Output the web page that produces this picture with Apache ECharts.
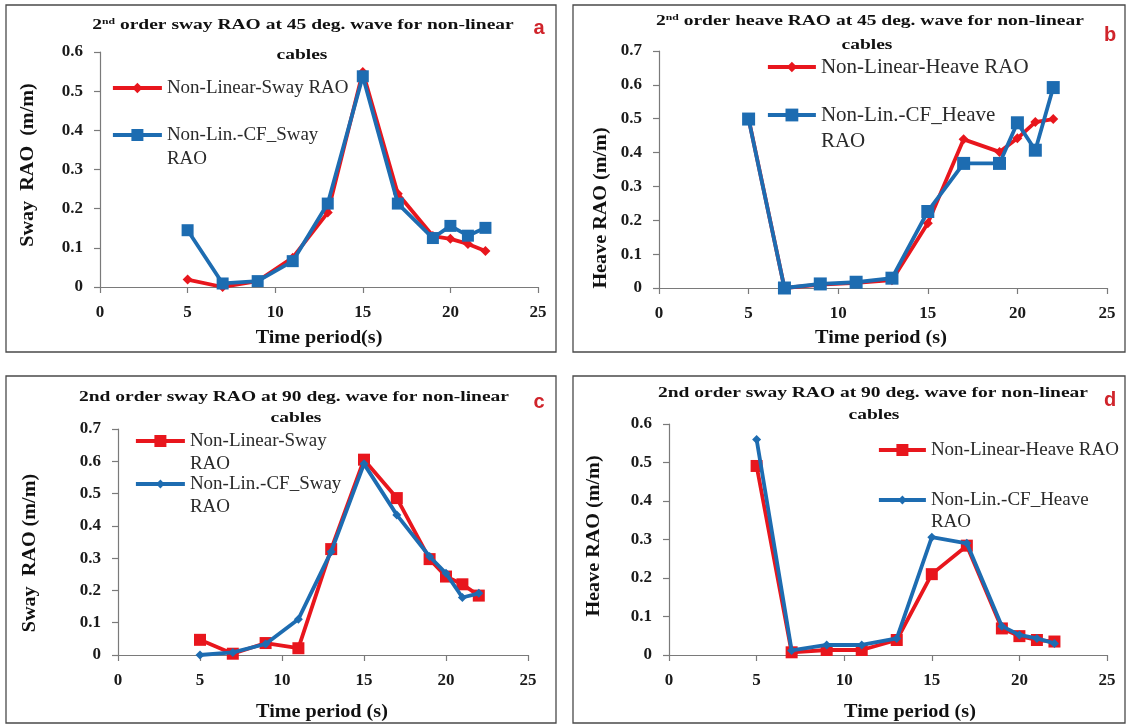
<!DOCTYPE html>
<html><head><meta charset="utf-8">
<script src="https://cdn.jsdelivr.net/npm/echarts@6/dist/echarts.min.js"></script>
<style>html,body{margin:0;padding:0;background:#fff}#c{width:1129px;height:725px}</style>
</head><body><div id="c"></div><script>
// ---- data ----
const periods = [5, 7, 9, 11, 13, 15, 17, 19, 20, 21, 22];
const swayRao45NonLinear = [0.019, 0.0, 0.015, 0.075, 0.19, 0.549, 0.238, 0.13, 0.123, 0.11, 0.092];
const swayRao45CF        = [0.145, 0.009, 0.015, 0.066, 0.213, 0.538, 0.213, 0.125, 0.156, 0.131, 0.151];
const heaveRao45NonLinear = [0.5, 0.0, 0.01, 0.015, 0.023, 0.191, 0.439, 0.402, 0.442, 0.49, 0.499];
const heaveRao45CF        = [0.499, 0.0, 0.012, 0.017, 0.029, 0.226, 0.368, 0.368, 0.488, 0.407, 0.592];
const swayRao90NonLinear = [0.047, 0.004, 0.037, 0.021, 0.328, 0.605, 0.486, 0.297, 0.243, 0.219, 0.184];
const swayRao90CF        = [0.0, 0.008, 0.034, 0.111, 0.32, 0.592, 0.434, 0.305, 0.253, 0.178, 0.191];
const heaveRao90NonLinear = [0.491, 0.007, 0.013, 0.013, 0.039, 0.21, 0.284, 0.069, 0.049, 0.039, 0.035];
const heaveRao90CF        = [0.56, 0.012, 0.026, 0.026, 0.043, 0.306, 0.29, 0.075, 0.052, 0.043, 0.03];
const xTicks = [0, 5, 10, 15, 20, 25];
const yMaxA = 0.6, yMaxB = 0.7, yMaxC = 0.7, yMaxD = 0.6, yStep = 0.1;

const titlesLine1 = [
  '2{sup|nd} order sway RAO at 45 deg. wave for non-linear',
  '2{sup|nd} order heave RAO at 45 deg. wave for non-linear',
  '2nd order sway RAO at 90 deg. wave for non-linear',
  '2nd order sway RAO at 90 deg. wave for non-linear'
];
const titleLine2 = 'cables';
const xTitles = ['Time period(s)', 'Time period (s)', 'Time period (s)', 'Time period (s)'];
const yTitles = ['Sway  RAO  (m/m)', 'Heave RAO (m/m)', 'Sway  RAO (m/m)', 'Heave RAO (m/m)'];
const panelLetters = ['a', 'b', 'c', 'd'];
const legendRed = ['Non-Linear-Sway RAO', 'Non-Linear-Heave RAO', 'Non-Linear-Sway\nRAO', 'Non-Linear-Heave RAO'];
const legendBlue = ['Non-Lin.-CF_Sway\nRAO', 'Non-Lin.-CF_Heave\nRAO', 'Non-Lin.-CF_Sway\nRAO', 'Non-Lin.-CF_Heave\nRAO'];

// ---- layout / style ----
const RED = '#e8161d', BLUE = '#1d6cb1';
const SERIF = '"Liberation Serif","Times New Roman",serif';
const LW = 3.8;
const panels = [
  { red: swayRao45NonLinear, blue: swayRao45CF, yMax: yMaxA,
    grid: {left: 100, top: 52, width: 438, height: 235},
    redSym: ['diamond', 10], blueSym: ['rect', 12],
    box: [6, 5, 550, 347], t1: [303, 25], t2: [302, 55], letter: [539, 28],
    xt: [319, 338], yt: [28, 165],
    lg: {left: 111, fs: 19, L: 24, y1: 88, y2: 135, iw: 49} },
  { red: heaveRao45NonLinear, blue: heaveRao45CF, yMax: yMaxB,
    grid: {left: 659, top: 51, width: 448, height: 237},
    redSym: ['diamond', 10], blueSym: ['rect', 13],
    box: [573, 5, 552, 347], t1: [870, 21], t2: [867, 45], letter: [1110, 35],
    xt: [881, 338], yt: [601, 208],
    lg: {left: 766, fs: 21, L: 26, y1: 67, y2: 115, iw: 48} },
  { red: swayRao90NonLinear, blue: swayRao90CF, yMax: yMaxC,
    grid: {left: 118, top: 429, width: 410, height: 226},
    redSym: ['rect', 12], blueSym: ['diamond', 9],
    box: [6, 376, 550, 347], t1: [294, 397], t2: [296, 418], letter: [539, 402],
    xt: [322, 712], yt: [30, 553],
    lg: {left: 134, fs: 19, L: 23, y1: 441, y2: 484, iw: 49} },
  { red: heaveRao90NonLinear, blue: heaveRao90CF, yMax: yMaxD,
    grid: {left: 669, top: 424, width: 438, height: 231},
    redSym: ['rect', 12], blueSym: ['diamond', 9],
    box: [573, 376, 552, 347], t1: [873, 393], t2: [874, 415], letter: [1110, 400],
    xt: [910, 712], yt: [594, 536],
    lg: {left: 877, fs: 19, L: 22, y1: 450, y2: 500, iw: 47} }
];

const grids = [], xAxes = [], yAxes = [], series = [], legends = [], graphics = [];
const displayName = {};
panels.forEach((p, i) => {
  grids.push(Object.assign({containLabel: false}, p.grid));
  xAxes.push({
    type: 'value', gridIndex: i, min: xTicks[0], max: xTicks[xTicks.length - 1], interval: xTicks[1] - xTicks[0],
    axisLine: {lineStyle: {color: '#7a7a7a', width: 1.2}},
    axisTick: {show: true, length: 6, lineStyle: {color: '#7a7a7a', width: 1.2}},
    axisLabel: {margin: 17, color: '#1a1a1a', fontFamily: SERIF, fontWeight: 'bold', fontSize: 17},
    splitLine: {show: false}
  });
  yAxes.push({
    type: 'value', gridIndex: i, min: 0, max: p.yMax, interval: yStep,
    axisLine: {show: true, lineStyle: {color: '#7a7a7a', width: 1.2}},
    axisTick: {show: true, length: 6, lineStyle: {color: '#7a7a7a', width: 1.2}},
    axisLabel: {margin: 17, color: '#1a1a1a', fontFamily: SERIF, fontWeight: 'bold', fontSize: 17,
      formatter: v => v === 0 ? '0' : v.toFixed(1)},
    splitLine: {show: false}
  });
  const rName = panelLetters[i] + '-red', bName = panelLetters[i] + '-blue';
  displayName[rName] = legendRed[i];
  displayName[bName] = legendBlue[i];
  series.push({
    name: rName, type: 'line', xAxisIndex: i, yAxisIndex: i,
    data: periods.map((x, k) => [x, p.red[k]]),
    symbol: p.redSym[0], symbolSize: p.redSym[1], showAllSymbol: true,
    lineStyle: {color: RED, width: LW}, itemStyle: {color: RED}, color: RED,
    emphasis: {disabled: true}, animation: false, z: 2
  });
  series.push({
    name: bName, type: 'line', xAxisIndex: i, yAxisIndex: i,
    data: periods.map((x, k) => [x, p.blue[k]]),
    symbol: p.blueSym[0], symbolSize: p.blueSym[1], showAllSymbol: true,
    lineStyle: {color: BLUE, width: LW}, itemStyle: {color: BLUE}, color: BLUE,
    emphasis: {disabled: true}, animation: false, z: 3
  });
  // legends: one per entry; wrapped entries get a leading empty line so that
  // their first line sits on the icon (text is centred on the icon)
  const lg = p.lg;
  [[rName, p.redSym, lg.y1, RED], [bName, p.blueSym, lg.y2, BLUE]].forEach(([nm, sym, cy, col]) => {
    const twoLine = displayName[nm].indexOf('\n') >= 0;
    const ih = Math.round(sym[1] / 0.8);
    legends.push({
      data: [nm], left: lg.left, top: twoLine ? cy - 1.5 * lg.L : cy - lg.L / 2,
      orient: 'vertical', padding: 0, itemWidth: lg.iw, itemHeight: ih, itemGap: 0,
      selectedMode: false,
      lineStyle: {width: LW, color: col},
      formatter: n => (displayName[n].indexOf('\n') >= 0 ? '\n' : '') + displayName[n],
      textStyle: {fontFamily: SERIF, fontSize: lg.fs, color: '#2a2a2a', lineHeight: lg.L}
    });
  });
  // panel border
  graphics.push({type: 'rect', shape: {x: p.box[0], y: p.box[1], width: p.box[2], height: p.box[3]},
    style: {fill: 'none', stroke: '#4a4a4a', lineWidth: 1.3}, z: 0, silent: true});
  // title lines
  graphics.push({type: 'text', x: p.t1[0], y: p.t1[1], scaleX: 1.3,
    style: {text: titlesLine1[i], font: 'bold 15px ' + SERIF, fill: '#111', align: 'center', verticalAlign: 'middle',
      rich: {sup: {font: 'bold 9px ' + SERIF, fill: '#111', verticalAlign: 'top'}}}});
  graphics.push({type: 'text', x: p.t2[0], y: p.t2[1], scaleX: 1.3,
    style: {text: titleLine2, font: 'bold 15px ' + SERIF, fill: '#111', align: 'center', verticalAlign: 'middle'}});
  // panel letter
  graphics.push({type: 'text', x: p.letter[0], y: p.letter[1],
    style: {text: panelLetters[i], font: 'bold 20px "Liberation Sans",Arial,sans-serif', fill: '#d0242b', align: 'center', verticalAlign: 'middle'}});
  // axis titles
  graphics.push({type: 'text', x: p.xt[0], y: p.xt[1], scaleX: 1.12,
    style: {text: xTitles[i], font: 'bold 18px ' + SERIF, fill: '#111', align: 'center', verticalAlign: 'middle'}});
  graphics.push({type: 'text', x: p.yt[0], y: p.yt[1], rotation: Math.PI / 2, scaleX: 1.12,
    style: {text: yTitles[i], font: 'bold 18px ' + SERIF, fill: '#111', align: 'center', verticalAlign: 'middle'}});
});

const chart = echarts.init(document.getElementById('c'), null, {renderer: 'canvas'});
chart.setOption({
  backgroundColor: '#fff',
  animation: false,
  grid: grids, xAxis: xAxes, yAxis: yAxes, series: series, legend: legends,
  graphic: {elements: graphics}
});
</script></body></html>
